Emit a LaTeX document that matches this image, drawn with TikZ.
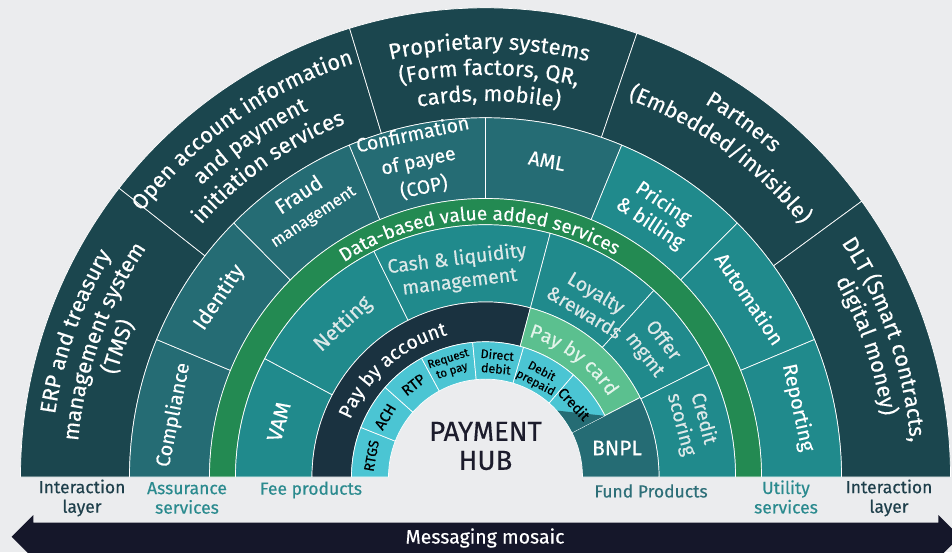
\documentclass[tikz,border=0pt]{standalone}
\usepackage{fontspec}
\setmainfont{Fira Sans}[FakeBold=0.35]
\usetikzlibrary{decorations.text}
\definecolor{bgc}{HTML}{EBECEE}
\definecolor{outerc}{HTML}{1B464E}
\definecolor{assurc}{HTML}{256C74}
\definecolor{utilc}{HTML}{208A8C}
\definecolor{greenc}{HTML}{238A52}
\definecolor{feec}{HTML}{208A8C}
\definecolor{payacc}{HTML}{1A3240}
\definecolor{paycard}{HTML}{5BC08F}
\definecolor{cyanc}{HTML}{4BC5D3}
\definecolor{arrowc}{HTML}{15172A}
\definecolor{softw}{HTML}{DCE8E8}
\definecolor{mintw}{HTML}{E2F4EA}
\definecolor{darklab}{HTML}{1E3F4B}
\definecolor{teallab}{HTML}{2A8A8E}
\definecolor{fundlab}{HTML}{2D6F78}
\definecolor{hubtext}{HTML}{1C1C2C}
\tikzset{
  seg/.style={draw=white, line width=0.7pt},
  lab/.style={text=white, align=center, inner sep=0pt, font=\fontsize{20}{24}\selectfont},
  labsoft/.style={lab, text=softw, font=\fontsize{19.5}{23}\selectfont},
  labfee/.style={lab, font=\fontsize{20}{24}\selectfont},
  labcy/.style={text=black, align=center, inner sep=0pt},
  botlab/.style={align=center, inner sep=0pt, font=\fontsize{17.5}{19.5}\selectfont},
}
\newcommand\ringseg[5]{\filldraw[seg,fill=#5] (#1:#3) arc[start angle=#1,end angle=#2,radius=#3] -- (#2:#4) arc[start angle=#2,end angle=#1,radius=#4] -- cycle;}
\newcommand\arctext[5]{%
  \path[decorate,decoration={text along path,text align=center,text color=#5,
    text={|\fontsize{#4}{#4}\selectfont|#3}}]
    ({#1+60}:#2) arc[start angle={#1+60},end angle={#1-60},radius=#2];}
\begin{document}
\begin{tikzpicture}[x=1pt,y=1pt]
\useasboundingbox (0,0) rectangle (952,552);
\fill[bgc] (0,0) rectangle (952,552);
\begin{scope}[shift={(485.5,75)}]
\begin{scope}[yscale=1.009]
% interaction layer
\ringseg{180}{142}{465}{356}{outerc}
\ringseg{142}{107}{465}{356}{outerc}
\ringseg{107}{71}{465}{356}{outerc}
\ringseg{71}{36}{465}{356}{outerc}
\ringseg{36}{0}{465}{356}{outerc}
% assurance / utility
\ringseg{180}{157.5}{356}{276}{assurc}
\ringseg{157.5}{135}{356}{276}{assurc}
\ringseg{135}{112.5}{356}{276}{assurc}
\ringseg{112.5}{90}{356}{276}{assurc}
\ringseg{90}{67.5}{356}{276}{assurc}
\ringseg{67.5}{45}{356}{276}{utilc}
\ringseg{45}{22.5}{356}{276}{utilc}
\ringseg{22.5}{0}{356}{276}{utilc}
% green band
\ringseg{180}{0}{276}{250}{greenc}
% fee / fund products
\ringseg{180}{152}{250}{173.5}{feec}
\ringseg{152}{116.5}{250}{173.5}{feec}
\ringseg{116.5}{75}{250}{173.5}{feec}
\ringseg{75}{47.7}{250}{173.5}{feec}
\ringseg{47.7}{26.5}{250}{173.5}{feec}
\ringseg{26.5}{0}{250}{173.5}{feec}
% pay rings
\ringseg{180}{75}{173.5}{134}{payacc}
\ringseg{75}{27}{173.5}{134}{paycard}
\ringseg{27}{0}{173.5}{97}{assurc}
% cyan ring
\ringseg{180}{158.5}{134}{97}{cyanc}
\ringseg{158.5}{138.5}{134}{97}{cyanc}
\ringseg{138.5}{118.5}{134}{97}{cyanc}
\ringseg{118.5}{95.5}{134}{97}{cyanc}
\ringseg{95.5}{73.5}{134}{97}{cyanc}
\ringseg{73.5}{49}{134}{97}{cyanc}
\ringseg{49}{27}{134}{97}{cyanc}
\fill[assurc] (27:133.6) -- (42.5:97.4) arc[start angle=42.5,end angle=27,radius=97.4] -- cycle;
\end{scope}

% outer ring curved texts
\arctext{160.5}{435}{ERP and treasury}{22}{white}
\arctext{160.5}{409}{management system}{22}{white}
\arctext{160.5}{383}{(TMS)}{22}{white}
\arctext{125}{434}{Open account information}{22}{white}
\arctext{125}{407}{and payment}{22}{white}
\arctext{125}{380}{initiation services}{22}{white}
\arctext{89.5}{428}{Proprietary systems}{22}{white}
\arctext{89.5}{402}{(Form factors, QR,}{22}{white}
\arctext{89.5}{376}{cards, mobile)}{22}{white}
\arctext{54}{433}{Partners}{22}{white}
\arctext{54}{404}{(Embedded/invisible)}{22}{white}
\arctext{19}{426}{DLT (Smart contracts,}{22}{white}
\arctext{19}{401}{digital money)}{22}{white}
% band texts
\arctext{91.5}{257}{Data-based value added services}{19}{white}
\arctext{131}{147}{Pay by account}{19.5}{white}
\arctext{53}{147}{Pay by card}{19.5}{mintw}

% assurance / utility labels
\node[lab, rotate=78.75] (compl) at (168.75:318) {Compliance};
\node[lab, rotate=56, font=\fontsize{21}{24}\selectfont] (ident) at (146:321) {Identity};
\node[lab, rotate=33.5, font=\fontsize{20.5}{24}\selectfont] (fraud) at (123.5:339) {Fraud};
\node[lab, rotate=33.5, font=\fontsize{16.5}{19}\selectfont] (fraudm) at (123.5:311) {management};
\node[lab, rotate=12, font=\fontsize{19.5}{27}\selectfont] (cop) at (102:323) {Confirmation\\of payee\\(COP)};
\node[lab, rotate=-11] (aml) at (79:322) {AML};
\node[lab, rotate=-33.5] (pricing) at (57:314) {Pricing\\\& billing};
\node[lab, rotate=-56] (autom) at (34:319) {Automation};
\node[lab, rotate=-77.5] (report) at (12.5:320) {Reporting};
% fee / fund labels
\node[labfee, rotate=75, font=\fontsize{21}{24}\selectfont] (vam) at (165:214) {VAM};
\node[labsoft, rotate=43, font=\fontsize{21}{24}\selectfont] (netting) at (133:209) {Netting};
\node[labsoft, rotate=7] (cash) at (97.5:208) {Cash \& liquidity\\management};
\node[labsoft, rotate=-31] (loyal) at (59:204) {Loyalty\\\&rewards};
\node[labsoft, rotate=-52.5] (offer) at (37.5:212) {Offer\\mgmt};
\node[labsoft, rotate=-75] (cscore) at (15:214) {Credit\\scoring};
\node[lab, font=\fontsize{21}{24}\selectfont] (bnpl) at (131.5,29) {BNPL};
% cyan labels
\node[labcy, rotate=79.5, font=\fontsize{14}{16}\selectfont] (rtgs) at (169.5:116) {RTGS};
\node[labcy, rotate=59, font=\fontsize{15}{17}\selectfont] (ach) at (149:117) {ACH};
\node[labcy, rotate=38, font=\fontsize{15}{17}\selectfont] (rtp) at (128:117) {RTP};
\node[labcy, rotate=17.5, font=\fontsize{11.5}{12.5}\selectfont] (rtpay) at (107.5:117) {Request\\to pay};
\node[labcy, rotate=-5.5, font=\fontsize{12.5}{14}\selectfont] (ddebit) at (84.5:116) {Direct\\debit};
\node[labcy, rotate=-28, font=\fontsize{12}{13}\selectfont] (dprep) at (62:113) {Debit\\prepaid};
\node[labcy, rotate=-47, font=\fontsize{14.5}{16}\selectfont] (credit) at (39.5:115) {Credit};
% hub
\node[text=hubtext, align=center, inner sep=0pt, font=\fontsize{27.5}{29}\selectfont] (hub) at (0,31) {PAYMENT\\HUB};
\end{scope}

% bottom labels
\node[botlab, text=darklab] (il1) at (82,54) {Interaction\\layer};
\node[botlab, text=teallab] (assur) at (187,54) {Assurance\\services};
\node[botlab, text=teallab] (feep) at (311,62) {Fee products};
\node[botlab, text=fundlab] (fundp) at (651,61) {Fund Products};
\node[botlab, text=teallab] (util) at (786,55) {Utility\\services};
\node[botlab, text=darklab] (il2) at (889,54) {Interaction\\layer};

% messaging arrow
\fill[arrowc] (11.7,15.3) -- (33.3,37) -- (33.3,29.3) -- (938.3,29.3) -- (938.3,37) -- (960,15.3) -- (938.3,-6.4) -- (938.3,-10) -- (33.3,-10) -- (33.3,-6.4) -- cycle;
\node[text=white, inner sep=0pt, font=\fontsize{19.5}{22}\selectfont] (msg) at (485,14) {Messaging mosaic};
\end{tikzpicture}
\end{document}
